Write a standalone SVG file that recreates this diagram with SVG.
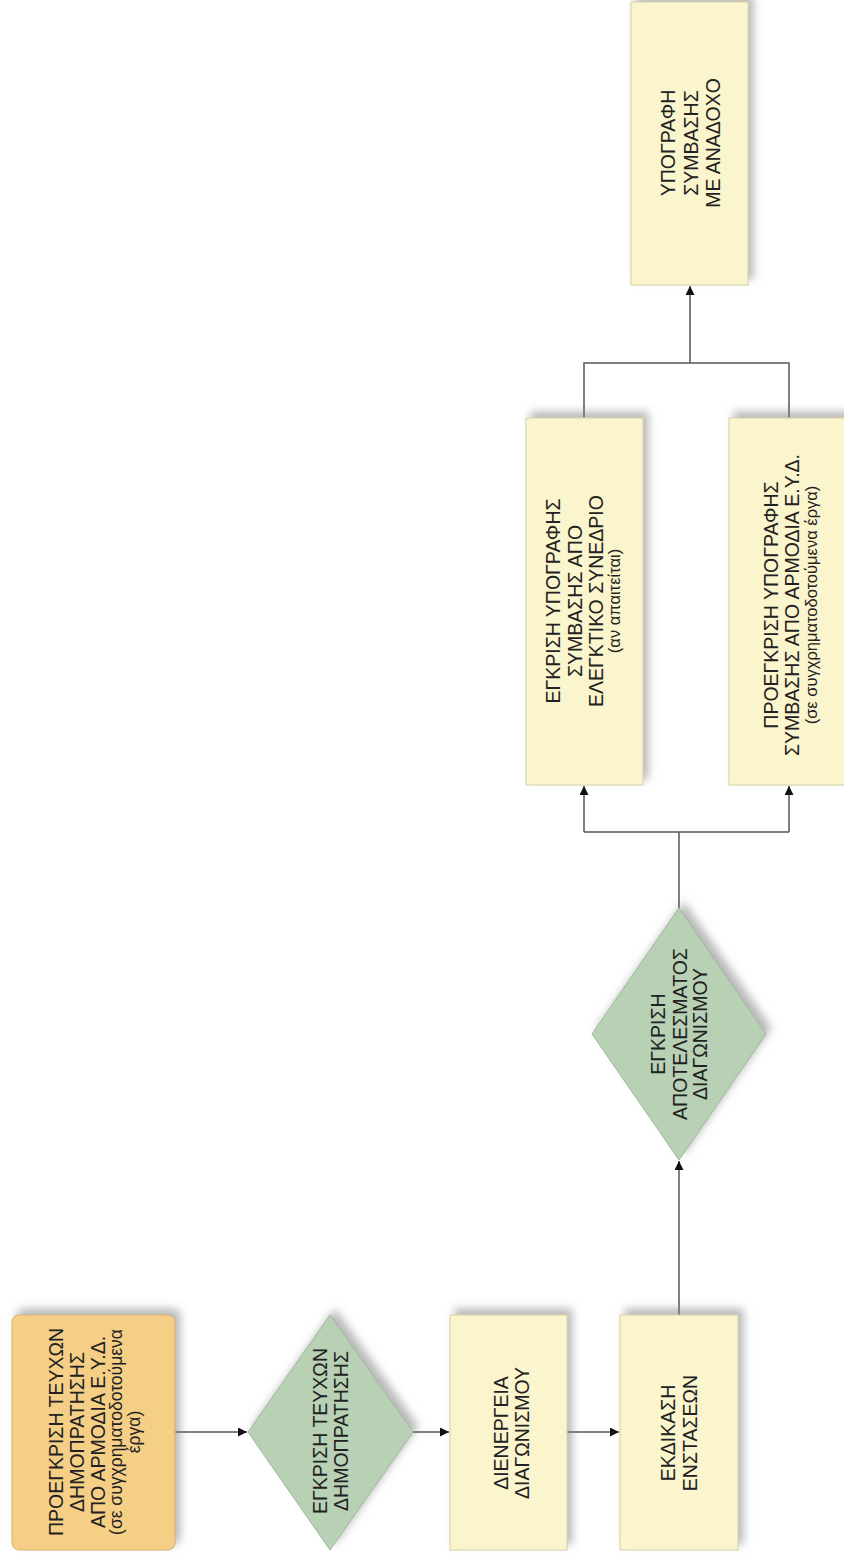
<svg xmlns="http://www.w3.org/2000/svg" width="844" height="1558" viewBox="0 0 844 1558">
<style>
.box{fill:#fbf5cd;stroke:#d6d0a6;stroke-width:1}
.start{fill:#f6cf86;stroke:#d7ae6c;stroke-width:1}
.dia{fill:#b8d1b5;stroke:#9fb79c;stroke-width:1}
.t{font-family:"Liberation Sans",Arial,sans-serif;font-size:19.5px;fill:#222;text-anchor:middle}
.s{font-family:"Liberation Sans",Arial,sans-serif;font-size:16.5px;fill:#222;text-anchor:middle}
.s2{font-family:"Liberation Sans",Arial,sans-serif;font-size:17.5px;fill:#222;text-anchor:middle}
.c{fill:none;stroke:#555;stroke-width:1.5}
</style>
<defs>
<filter id="sh" x="-20%" y="-20%" width="140%" height="140%">
<feGaussianBlur in="SourceAlpha" stdDeviation="4"/>
<feOffset dx="5" dy="-6" result="b"/>
<feFlood flood-color="#808080" flood-opacity="0.55"/>
<feComposite in2="b" operator="in"/>
<feMerge><feMergeNode/><feMergeNode in="SourceGraphic"/></feMerge>
</filter>
<marker id="ah" viewBox="0 0 10 10" refX="10" refY="5" markerWidth="9" markerHeight="9" markerUnits="userSpaceOnUse" orient="auto">
<path d="M0,0 L10,5 L0,10 Z" fill="#111"/>
</marker>
</defs>
<rect width="844" height="1558" fill="#fff"/>

<g id="connectors">
<path class="c" d="M175,1432 H247" marker-end="url(#ah)"/>
<path class="c" d="M413,1432 H449" marker-end="url(#ah)"/>
<path class="c" d="M567,1432 H619" marker-end="url(#ah)"/>
<path class="c" d="M679,1315 V1161" marker-end="url(#ah)"/>
<path class="c" d="M679,908 V832"/>
<path class="c" d="M584,832 H789"/>
<path class="c" d="M584,832 V786" marker-end="url(#ah)"/>
<path class="c" d="M789,832 V786" marker-end="url(#ah)"/>
<path class="c" d="M584,418 V363 H789 V418"/>
<path class="c" d="M690,363 V286" marker-end="url(#ah)"/>
</g>

<g id="n1">
<rect class="start" x="12" y="1315" width="163" height="235" rx="7" filter="url(#sh)"/>
<g transform="translate(0,1432) rotate(-90)">
<text class="t" x="0" y="63">ΠΡΟΕΓΚΡΙΣΗ ΤΕΥΧΩΝ</text>
<text class="t" x="0" y="84">ΔΗΜΟΠΡΑΤΗΣΗΣ</text>
<text class="t" x="0" y="105">ΑΠΟ ΑΡΜΟΔΙΑ Ε.Υ.Δ.</text>
<text class="s2" x="0" y="122">(σε συγχρηματοδοτούμενα</text>
<text class="s2" x="0" y="140">έργα)</text>
</g>
</g>

<g id="n2">
<polygon class="dia" points="330,1315 413,1432 330,1550 248,1432" filter="url(#sh)"/>
<g transform="translate(0,1431) rotate(-90)">
<text class="t" x="0" y="327">ΕΓΚΡΙΣΗ ΤΕΥΧΩΝ</text>
<text class="t" x="0" y="348">ΔΗΜΟΠΡΑΤΗΣΗΣ</text>
</g>
</g>

<g id="n3">
<rect class="box" x="450" y="1315" width="117" height="235" filter="url(#sh)"/>
<g transform="translate(0,1433) rotate(-90)">
<text class="t" x="0" y="508">ΔΙΕΝΕΡΓΕΙΑ</text>
<text class="t" x="0" y="529">ΔΙΑΓΩΝΙΣΜΟΥ</text>
</g>
</g>

<g id="n4">
<rect class="box" x="620" y="1315" width="118" height="235" filter="url(#sh)"/>
<g transform="translate(0,1433) rotate(-90)">
<text class="t" x="0" y="675">ΕΚΔΙΚΑΣΗ</text>
<text class="t" x="0" y="697">ΕΝΣΤΑΣΕΩΝ</text>
</g>
</g>

<g id="n5">
<polygon class="dia" points="679,908 766,1034 679,1160 592,1034" filter="url(#sh)"/>
<g transform="translate(0,1034) rotate(-90)">
<text class="t" x="0" y="665">ΕΓΚΡΙΣΗ</text>
<text class="t" x="0" y="687">ΑΠΟΤΕΛΕΣΜΑΤΟΣ</text>
<text class="t" x="0" y="707">ΔΙΑΓΩΝΙΣΜΟΥ</text>
</g>
</g>

<g id="n6">
<rect class="box" x="526" y="418" width="117" height="367" filter="url(#sh)"/>
<g transform="translate(0,601) rotate(-90)">
<text class="t" x="0" y="560">ΕΓΚΡΙΣΗ ΥΠΟΓΡΑΦΗΣ</text>
<text class="t" x="0" y="582">ΣΥΜΒΑΣΗΣ ΑΠΟ</text>
<text class="t" x="0" y="603">ΕΛΕΓΚΤΙΚΟ ΣΥΝΕΔΡΙΟ</text>
<text class="s" x="0" y="620">(αν απαιτείται)</text>
</g>
</g>

<g id="n7">
<rect class="box" x="729" y="418" width="117" height="367" filter="url(#sh)"/>
<g transform="translate(0,605) rotate(-90)">
<text class="t" x="0" y="778">ΠΡΟΕΓΚΡΙΣΗ ΥΠΟΓΡΑΦΗΣ</text>
<text class="t" x="0" y="799">ΣΥΜΒΑΣΗΣ ΑΠΟ ΑΡΜΟΔΙΑ Ε.Υ.Δ.</text>
<text class="s" x="0" y="817">(σε συγχρηματοδοτούμενα έργα)</text>
</g>
</g>

<g id="n8">
<rect class="box" x="631" y="2" width="117" height="283" filter="url(#sh)"/>
<g transform="translate(0,143) rotate(-90)">
<text class="t" x="0" y="675">ΥΠΟΓΡΑΦΗ</text>
<text class="t" x="0" y="698">ΣΥΜΒΑΣΗΣ</text>
<text class="t" x="0" y="720">ΜΕ ΑΝΑΔΟΧΟ</text>
</g>
</g>
</svg>
